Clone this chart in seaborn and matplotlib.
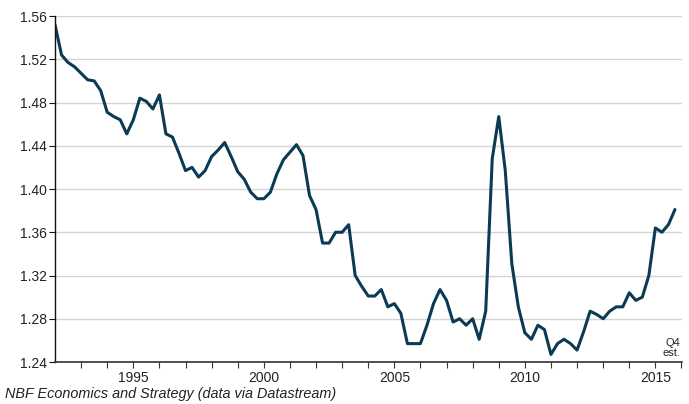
import numpy as np
import pandas as pd
import matplotlib
matplotlib.use("Agg")
import matplotlib.pyplot as plt
import seaborn as sns

# Quarterly values, 1992Q1 .. 2015Q4 (Q4 2015 estimated)
start_year = 1992
values = [
    1.552, 1.524, 1.517, 1.513, 1.507, 1.501, 1.500, 1.491,   # 1992-1993
    1.471, 1.467, 1.464, 1.451, 1.464, 1.484, 1.481, 1.474,   # 1994-1995
    1.487, 1.451, 1.448, 1.433, 1.417, 1.420, 1.411, 1.417,   # 1996-1997
    1.430, 1.436, 1.443, 1.430, 1.416, 1.409, 1.397, 1.391,   # 1998-1999
    1.391, 1.397, 1.414, 1.427, 1.434, 1.441, 1.431, 1.394,   # 2000-2001
    1.381, 1.350, 1.350, 1.360, 1.360, 1.367, 1.320, 1.310,   # 2002-2003
    1.301, 1.301, 1.307, 1.291, 1.294, 1.285, 1.257, 1.257,   # 2004-2005
    1.257, 1.274, 1.294, 1.307, 1.297, 1.277, 1.280, 1.274,   # 2006-2007
    1.280, 1.261, 1.287, 1.428, 1.467, 1.417, 1.331, 1.291,   # 2008-2009
    1.267, 1.261, 1.274, 1.270, 1.247, 1.257, 1.261, 1.257,   # 2010-2011
    1.251, 1.268, 1.287, 1.284, 1.280, 1.287, 1.291, 1.291,   # 2012-2013
    1.304, 1.297, 1.300, 1.320, 1.364, 1.360, 1.367, 1.381,   # 2014-2015
]
years = [start_year + i / 4 for i in range(len(values))]

y_ticks = [1.24, 1.28, 1.32, 1.36, 1.40, 1.44, 1.48, 1.52, 1.56]
x_major = [1995, 2000, 2005, 2010, 2015]
x_minor = list(range(1993, 2017))
caption = "NBF Economics and Strategy (data via Datastream)"
note = "Q4\nest."

df = pd.DataFrame({"year": years, "value": values})

sns.set_style("white")
plt.rcParams["font.family"] = ["Liberation Sans", "DejaVu Sans"]

fig = plt.figure(figsize=(6.89, 4.04), dpi=100)
ax = fig.add_axes([55 / 689, 1 - 362 / 404, (682 - 55) / 689, (362 - 16) / 404])

sns.lineplot(data=df, x="year", y="value", ax=ax, color="#0b3a55", linewidth=2.2)

ax.set_xlim(1992.0, 2016.02)
ax.set_ylim(1.24, 1.56)
ax.set_yticks(y_ticks)
ax.set_yticklabels([f"{v:.2f}" for v in y_ticks], fontsize=10, color="#222222")
ax.set_xticks(x_major)
ax.set_xticklabels([str(v) for v in x_major], fontsize=10, color="#222222")
ax.set_xticks(x_minor, minor=True)
ax.set_xlabel("")
ax.set_ylabel("")

ax.grid(axis="y", color="#d4d4d4", linewidth=1.0)
ax.grid(axis="x", visible=False)
ax.set_axisbelow(True)

for s in ["top", "right"]:
    ax.spines[s].set_visible(False)
ax.spines["left"].set_color("#111111")
ax.spines["left"].set_linewidth(1.0)
ax.spines["bottom"].set_color("#333333")
ax.spines["bottom"].set_linewidth(1.2)

ax.tick_params(axis="y", which="major", direction="out", length=4, width=0.8,
               color="#111111", left=True, pad=2)
ax.tick_params(axis="x", which="both", direction="out", length=4, width=0.8,
               color="#333333", bottom=True, pad=2.5)

ax.text(0.9975, 0.012, note, transform=ax.transAxes, ha="right", va="bottom",
        fontsize=8, color="#222222", linespacing=1.0)

fig.text(5 / 689, 1 - 398 / 404, caption, ha="left", va="baseline",
         fontsize=10.4, style="italic", color="#222222")

fig.savefig("out.png", dpi=100)
